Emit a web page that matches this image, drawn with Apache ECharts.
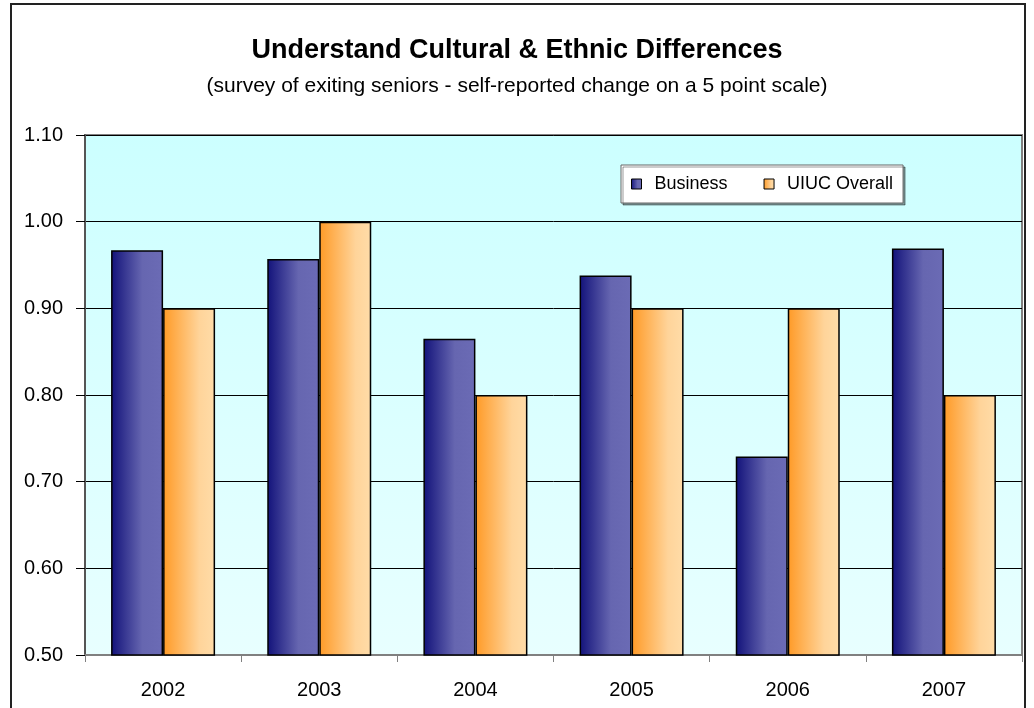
<!DOCTYPE html>
<html><head><meta charset="utf-8">
<script src="https://cdn.jsdelivr.net/npm/echarts@6/dist/echarts.min.js"></script>
<style>html,body{margin:0;padding:0;background:#fff}#c{width:1034px;height:708px}</style>
</head><body><div id="c"></div>
<script>
const categories = ['2002','2003','2004','2005','2006','2007'];
const business = [0.967, 0.957, 0.865, 0.938, 0.729, 0.969];
const uiuc = [0.90, 1.00, 0.80, 0.90, 0.90, 0.80];
const yTicks = [0.5, 0.6, 0.7, 0.8, 0.9, 1.0, 1.1];

const chart = echarts.init(document.getElementById('c'));
const font = '"Liberation Sans", Arial, sans-serif';
const blueGrad = new echarts.graphic.LinearGradient(0,0,1,0,[{offset:0,color:'#12127a'},{offset:0.6,color:'#6666b0'},{offset:1,color:'#6b6bb5'}]);
const orangeGrad = new echarts.graphic.LinearGradient(0,0,1,0,[{offset:0,color:'#ff9a26'},{offset:0.7,color:'#ffd49a'},{offset:1,color:'#ffdca8'}]);
chart.setOption({
  animation:false,
  textStyle:{fontFamily:font},
  graphic:[{type:'rect',shape:{x:11,y:4,width:1014,height:720},style:{fill:null,stroke:'#222',lineWidth:2},z:-10}],
  title:[{text:'Understand Cultural & Ethnic Differences',left:'center',top:32,textStyle:{fontSize:27,fontWeight:'bold',color:'#000',fontFamily:font}},
         {text:'(survey of exiting seniors - self-reported change on a 5 point scale)',left:'center',top:71,textStyle:{fontSize:21,fontWeight:'normal',color:'#000',fontFamily:font}}],
  legend:{data:['Business','UIUC Overall'],left:621,top:165,padding:[10,10,10,10],itemGap:36,icon:'rect',
    backgroundColor:'#fff',borderColor:'#666',borderWidth:1,shadowColor:'rgba(0,0,0,0.4)',shadowOffsetX:2,shadowOffsetY:2,shadowBlur:0,
    itemWidth:10,itemHeight:10,itemStyle:{borderColor:'#000',borderWidth:1},
    textStyle:{fontSize:18,color:'#000',fontFamily:font,padding:[0,0,0,8]}},
  grid:{left:85,top:135,right:12,bottom:53,show:true,borderColor:'#808080',borderWidth:2,
    backgroundColor:new echarts.graphic.LinearGradient(0,0,0,1,[{offset:0,color:'#ccffff'},{offset:1,color:'#e8ffff'}])},
  xAxis:{type:'category',data:categories,axisLine:{lineStyle:{color:'#808080',width:2}},
    axisTick:{show:true,length:7,lineStyle:{color:'#808080',width:1}},
    axisLabel:{fontSize:20,color:'#000',margin:25,fontFamily:font}},
  yAxis:{type:'value',min:0.5,max:1.1,interval:0.1,
    axisLine:{show:true,lineStyle:{color:'#555',width:2}},
    axisTick:{show:true,length:9,lineStyle:{color:'#000'}},
    axisLabel:{fontSize:20,color:'#000',margin:22,fontFamily:font,formatter:v=>v.toFixed(2)},
    splitLine:{lineStyle:{color:'#000',width:1}}},
  series:[
    {name:'Business',type:'bar',data:business,barWidth:52,barGap:'0%',
      itemStyle:{color:blueGrad,borderColor:'#000',borderWidth:1.5}},
    {name:'UIUC Overall',type:'bar',data:uiuc,barWidth:52,barGap:'0%',
      itemStyle:{color:orangeGrad,borderColor:'#000',borderWidth:1.5}}
  ]
});
</script></body></html>
